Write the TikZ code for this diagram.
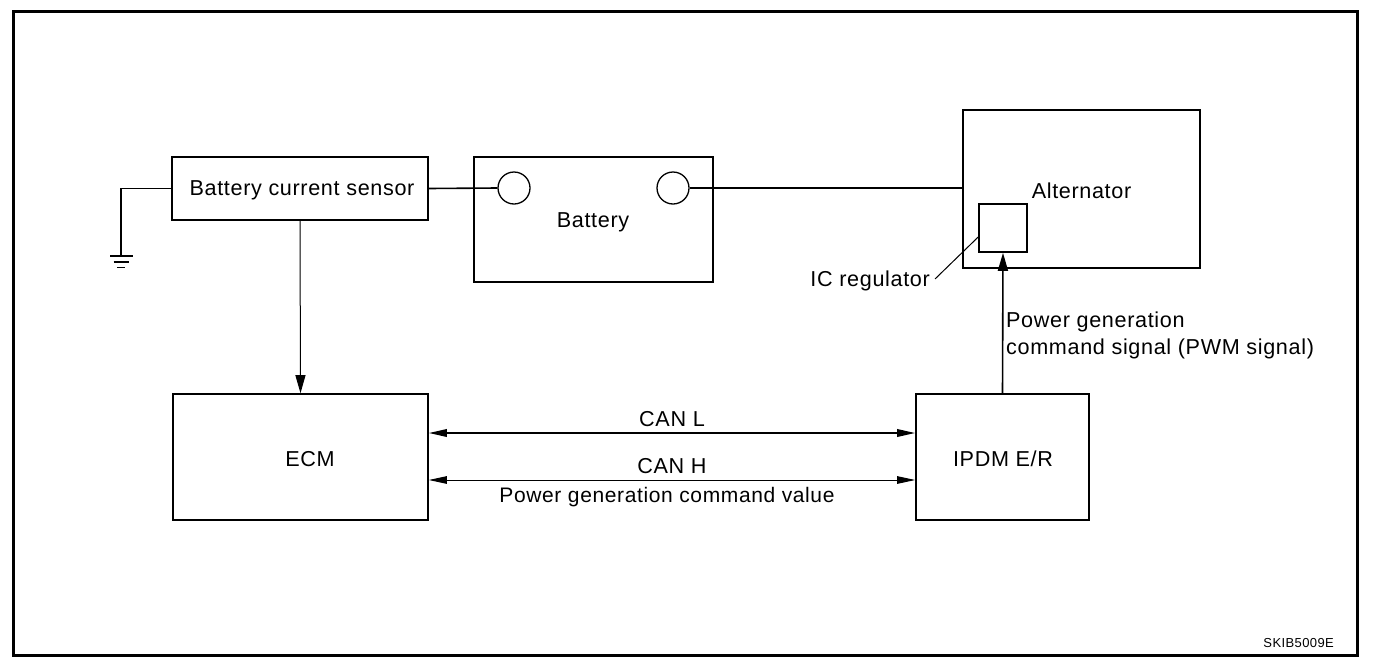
\documentclass[tikz,border=0pt]{standalone}
\usepackage{fontspec}
\setmainfont{Liberation Sans}[LetterSpace=3]
\usetikzlibrary{arrows.meta}
\begin{document}
\begin{tikzpicture}[x=1pt,y=-1pt,
  box/.style={draw, line width=1.6pt, rectangle, inner sep=0pt},
  term/.style={draw, line width=1.3pt, circle, inner sep=0pt, minimum size=32pt},
  wire/.style={line width=1.6pt},
  txt/.style={font=\fontsize{21.6}{27}\selectfont, inner sep=1pt, yshift=-2pt},
  tipA/.style={-{Triangle[length=18pt,width=10pt]}},
  tipC/.style={{Triangle[length=18pt,width=7.5pt]}-{Triangle[length=18pt,width=7.5pt]}}
]
\useasboundingbox (0,0) rectangle (1392,664);
\draw[line width=3pt] (13,11) rectangle (1357,655);

% boxes
\node[box, minimum width=256pt, minimum height=63pt] (bcs) at (300,188.5) {};
\node[txt] (bcslbl) at (302,188.5) {Battery current sensor};
\node[box, minimum width=239pt, minimum height=125pt] (bat) at (593.5,219.5) {};
\node[txt] (batlbl) at (593,220) {Battery};
\node[term] (tl) at (514,188) {};
\node[term] (tr) at (673,188) {};
\node[box, minimum width=237pt, minimum height=158pt] (alt) at (1081.5,189) {};
\node[txt] (altlbl) at (1081.5,189) {Alternator};
\node[box, minimum width=48pt, minimum height=48pt, fill=white] (icr) at (1003,228) {};
\node[box, minimum width=255pt, minimum height=126pt] (ecm) at (300.5,457) {};
\node[txt] (ecmlbl) at (310,457) {ECM};
\node[box, minimum width=173pt, minimum height=126pt] (ipdm) at (1002.5,457) {};
\node[txt] (ipdmlbl) at (1003,457) {IPDM E/R};

% ground
\coordinate (gnd) at (121,256);
\draw[wire] (bcs.west) -- (gnd |- bcs.west) -- (gnd);
\draw[line width=1.6pt] (110,256) -- (133,256);
\draw[line width=1.6pt] (113.5,262) -- (128.5,262);
\draw[line width=1.6pt] (117,267.5) -- (125,267.5);

% wires
\draw[wire] (bcs.east) -- (tl.west);
\draw[wire] (tr.east) -- (tr.east -| alt.west);
\draw[line width=1pt, tipA] (bcs.south) -- (ecm.north);

% CAN
\draw[line width=1.8pt, tipC] ([yshift=24pt]ecm.east) -- ([yshift=24pt]ipdm.west);
\draw[line width=1pt, tipC] ([yshift=-23pt]ecm.east) -- ([yshift=-23pt]ipdm.west);
\node[txt] (canl) at (672,417) {CAN L};
\node[txt] (canh) at (672,464) {CAN H};
\node[txt, font=\fontsize{21}{27}\selectfont] (pgcv) at (667,495) {Power generation command value};

% PWM
\draw[line width=1.6pt, tipA] (ipdm.north) -- (icr.south);
\node[txt, anchor=west, align=left] (pwm) at (1005,333) {Power generation\\command signal (PWM signal)};

% IC regulator label
\node[txt, anchor=east] (icl) at (931,279) {IC regulator};
\draw[line width=1pt] ([yshift=-9pt]icr.west) -- (935,279);

% code
\node[font=\fontsize{13}{15}\selectfont, anchor=east, inner sep=0pt] (code) at (1334,643) {SKIB5009E};
\end{tikzpicture}
\end{document}
